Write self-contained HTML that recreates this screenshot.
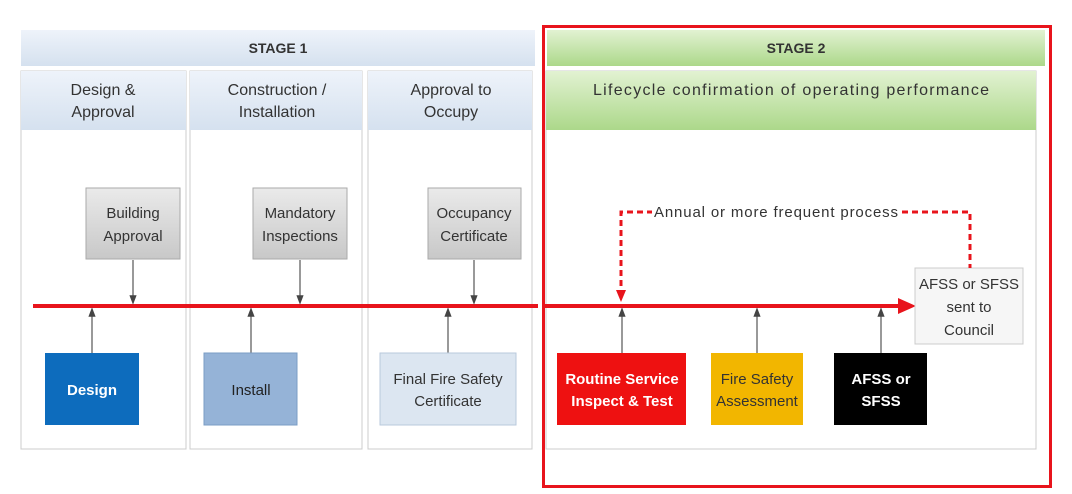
<!DOCTYPE html>
<html><head><style>
body{margin:0;width:1072px;height:489px;background:#fff;overflow:hidden;font-family:"Liberation Sans",sans-serif}
</style></head><body>
<svg width="1072" height="489" xmlns="http://www.w3.org/2000/svg" font-family="Liberation Sans, sans-serif">
<defs>
<linearGradient id="g1" x1="0" y1="0" x2="0" y2="1"><stop offset="0" stop-color="#eef3fa"/><stop offset="1" stop-color="#d5e1ef"/></linearGradient>
<linearGradient id="g2" x1="0" y1="0" x2="0" y2="1"><stop offset="0" stop-color="#e2f2d2"/><stop offset="1" stop-color="#acd88a"/></linearGradient>
<linearGradient id="gb" x1="0" y1="0" x2="0" y2="1"><stop offset="0" stop-color="#eaeaea"/><stop offset="1" stop-color="#c8c8c8"/></linearGradient>
<marker id="ah" markerWidth="8" markerHeight="8" refX="4" refY="4" orient="auto"><path d="M0,1 L8,4 L0,7z" fill="#444"/></marker>
</defs>
<rect x="21" y="30" width="514" height="36" fill="url(#g1)"/>
<text x="278" y="53" font-size="14" font-weight="bold" text-anchor="middle" fill="#333">STAGE 1</text>
<rect x="547" y="30" width="498" height="36" fill="url(#g2)"/>
<text x="796" y="53" font-size="14" font-weight="bold" text-anchor="middle" fill="#333">STAGE 2</text>
<g stroke="#ccc" fill="#fff">
<rect x="21" y="71" width="165" height="378"/>
<rect x="190" y="71" width="172" height="378"/>
<rect x="368" y="71" width="164" height="378"/>
<rect x="546" y="71" width="490" height="378"/>
</g>
<rect x="21" y="71" width="165" height="59" fill="url(#g1)"/>
<rect x="190" y="71" width="172" height="59" fill="url(#g1)"/>
<rect x="368" y="71" width="164" height="59" fill="url(#g1)"/>
<rect x="546" y="71" width="490" height="59" fill="url(#g2)"/>
<g font-size="16" fill="#333" text-anchor="middle">
<text x="103" y="95">Design &amp;</text><text x="103" y="117">Approval</text>
<text x="277" y="95">Construction /</text><text x="277" y="117">Installation</text>
<text x="451" y="95">Approval to</text><text x="451" y="117">Occupy</text>
<text x="791" y="95" textLength="396">Lifecycle confirmation of operating performance</text>
</g>
<g stroke="#aaa" fill="url(#gb)">
<rect x="86" y="188" width="94" height="71"/>
<rect x="253" y="188" width="94" height="71"/>
<rect x="428" y="188" width="93" height="71"/>
</g>
<g font-size="15" fill="#333" text-anchor="middle">
<text x="133" y="218">Building</text><text x="133" y="241">Approval</text>
<text x="300" y="218">Mandatory</text><text x="300" y="241">Inspections</text>
<text x="474" y="218">Occupancy</text><text x="474" y="241">Certificate</text>
</g>
<line x1="33" y1="306" x2="538" y2="306" stroke="#e8141c" stroke-width="4"/>
<line x1="545" y1="306" x2="900" y2="306" stroke="#e8141c" stroke-width="4"/>
<path d="M898,298 L916,306 L898,314z" fill="#e8141c"/>
<g stroke="#555" stroke-width="1.2" marker-end="url(#ah)">
<line x1="133" y1="260" x2="133" y2="300"/>
<line x1="300" y1="260" x2="300" y2="300"/>
<line x1="474" y1="260" x2="474" y2="300"/>
<line x1="92" y1="353" x2="92" y2="312"/>
<line x1="251" y1="353" x2="251" y2="312"/>
<line x1="448" y1="353" x2="448" y2="312"/>
<line x1="622" y1="353" x2="622" y2="312"/>
<line x1="757" y1="353" x2="757" y2="312"/>
<line x1="881" y1="353" x2="881" y2="312"/>
</g>
<rect x="45" y="353" width="94" height="72" fill="#0d6cbd"/>
<rect x="204" y="353" width="93" height="72" fill="#95b3d7" stroke="#7a9cc4"/>
<rect x="380" y="353" width="136" height="72" fill="#dce6f1" stroke="#b9c9dc"/>
<rect x="557" y="353" width="129" height="72" fill="#ee1111"/>
<rect x="711" y="353" width="92" height="72" fill="#f2b600"/>
<rect x="834" y="353" width="93" height="72" fill="#000"/>
<g font-size="15" text-anchor="middle">
<text x="92" y="395" fill="#fff" font-weight="bold">Design</text>
<text x="251" y="395" fill="#222">Install</text>
<text x="448" y="384" fill="#333">Final Fire Safety</text><text x="448" y="406" fill="#333">Certificate</text>
<text x="622" y="384" fill="#fff" font-weight="bold">Routine Service</text><text x="622" y="406" fill="#fff" font-weight="bold">Inspect &amp; Test</text>
<text x="757" y="384" fill="#333">Fire Safety</text><text x="757" y="406" fill="#333">Assessment</text>
<text x="881" y="384" fill="#fff" font-weight="bold">AFSS or</text><text x="881" y="406" fill="#fff" font-weight="bold">SFSS</text>
</g>
<rect x="915" y="268" width="108" height="76" fill="#f6f6f6" stroke="#ccc"/>
<g font-size="15" fill="#333" text-anchor="middle">
<text x="969" y="289">AFSS or SFSS</text><text x="969" y="312">sent to</text><text x="969" y="335">Council</text>
</g>
<g stroke="#e8141c" stroke-width="3" stroke-dasharray="6,4" fill="none">
<path d="M621,296 L621,212 L652,212"/>
<path d="M902,212 L970,212 L970,268"/>
</g>
<path d="M616,290 L621,302 L626,290z" fill="#e8141c"/>
<text x="776" y="217" font-size="15" fill="#333" text-anchor="middle" textLength="244">Annual or more frequent process</text>
<rect x="543.5" y="26.5" width="507" height="460" fill="none" stroke="#e8141c" stroke-width="3"/>
</svg>
</body></html>
